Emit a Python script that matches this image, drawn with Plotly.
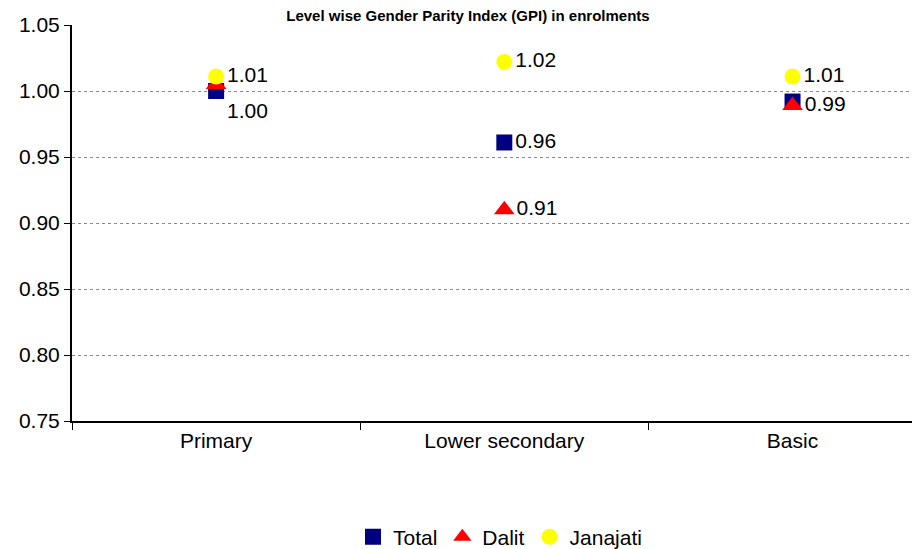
import plotly.graph_objects as go

levels = ["Primary", "Lower secondary", "Basic"]
total = [1.000, 0.961, 0.992]
dalit = [1.005, 0.910, 0.989]
janajati = [1.011, 1.022, 1.011]

# which points carry a data label
total_show = [True, True, False]
dalit_show = [False, True, True]
janajati_show = [True, True, True]

FONT = "Liberation Sans, Arial, sans-serif"


def labels(vals, show):
    return [f"{v:.2f}" if s else "" for v, s in zip(vals, show)]


fig = go.Figure()
fig.add_trace(go.Scatter(
    x=levels, y=total, name="Total", mode="markers+text",
    marker=dict(symbol="square", size=16, color="#000080"),
    text=labels(total, total_show),
    textposition=["bottom right", "middle right", "middle right"],
    textfont=dict(size=21, color="#000000"),
))
fig.add_trace(go.Scatter(
    x=levels, y=dalit, name="Dalit", mode="markers+text",
    marker=dict(symbol="triangle-up", size=18, color="#FF0000"),
    text=labels(dalit, dalit_show),
    textposition="middle right",
    textfont=dict(size=21, color="#000000"),
))
fig.add_trace(go.Scatter(
    x=levels, y=janajati, name="Janajati", mode="markers+text",
    marker=dict(symbol="circle", size=16, color="#FFFF00"),
    text=labels(janajati, janajati_show),
    textposition="middle right",
    textfont=dict(size=21, color="#000000"),
))

# the page body adds an 8px offset, so margins are shifted to compensate
fig.update_layout(
    width=920, height=549,
    margin=dict(l=64, r=0, t=17, b=136, autoexpand=False),
    plot_bgcolor="white", paper_bgcolor="white",
    font=dict(family=FONT, size=21, color="#000000"),
    title=dict(
        text="<b>Level wise Gender Parity Index (GPI) in enrolments</b>",
        x=0.5, xanchor="center", y=1 - 8 / 549, yref="container",
        yanchor="middle", font=dict(size=15), automargin=False,
    ),
    showlegend=True,
    legend=dict(
        orientation="h", x=0.5, xanchor="center", y=-0.293, yanchor="middle",
        font=dict(size=21), itemwidth=30, tracegroupgap=0,
    ),
)
fig.update_xaxes(
    range=[-0.5, 2.47], showline=True, linecolor="#000000", linewidth=2,
    ticks="outside", tickson="boundaries", ticklen=7, tickcolor="#000000",
    showgrid=False, zeroline=False, automargin=False,
)
fig.update_yaxes(
    range=[0.75, 1.05], dtick=0.05, tickformat=".2f",
    showline=True, linecolor="#000000", linewidth=2,
    ticks="outside", ticklen=6, tickcolor="#000000",
    showgrid=True, gridcolor="#888888", griddash="dot", gridwidth=1,
    zeroline=False, automargin=False,
)

fig.write_html("out.html")
